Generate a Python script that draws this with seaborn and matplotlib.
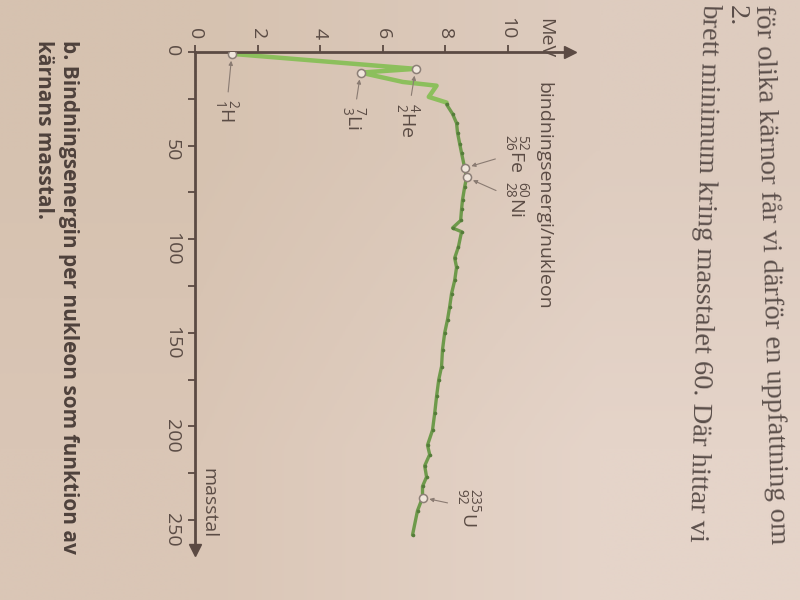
import matplotlib
matplotlib.use('Agg')
import matplotlib.pyplot as plt
import seaborn as sns
import numpy as np

# binding energy per nucleon (MeV) vs mass number
# light nuclei: the pale green zig-zag at the start
light_mev = [1.18, 7.06, 5.30, 6.65, 7.73, 7.48, 8.05]
light_mass = [1, 9, 11, 16, 18, 24, 27]

# the rest of the curve
heavy_mev = [8.05, 8.24, 8.37, 8.40, 8.47, 8.53, 8.63, 8.69, 8.63, 8.56, 8.53, 8.50,
             8.24, 8.53, 8.43, 8.31, 8.37, 8.31, 8.21, 8.15, 8.08, 7.99, 7.92, 7.89,
             7.80, 7.73, 7.67, 7.60, 7.44, 7.51, 7.35, 7.41, 7.28, 7.28, 7.12, 6.96]
heavy_mass = [28, 33, 38, 43, 49, 54, 62, 67, 72, 79, 84, 90,
              94, 96, 104, 110, 115, 122, 129, 136, 143, 150, 159, 168,
              175, 184, 193, 202, 210, 215, 221, 227, 232, 238, 245, 258]

# marked nuclei
iso_names = [r'${}^{2}_{1}$H', r'${}^{4}_{2}$He', r'${}^{7}_{3}$Li',
             r'${}^{52}_{26}$Fe', r'${}^{60}_{28}$Ni', r'${}^{235}_{92}$U']
iso_mev = [1.18, 7.06, 5.30, 8.63, 8.69, 7.28]
iso_mass = [1, 9, 11, 62, 67, 238]

mev_ticks = [0, 2, 4, 6, 8, 10]
mass_ticks = [0, 50, 100, 150, 200, 250]

sns.set_style('ticks')
plt.rcParams['font.family'] = ['Open Sans', 'DejaVu Sans']
plt.rcParams['mathtext.default'] = 'regular'

ink = '#5b4c45'
axcol = '#5b4a43'

fig = plt.figure(figsize=(8, 6), dpi=100)

# paper background, a bit darker on the left like in the photo
bg = fig.add_axes([0, 0, 1, 1], zorder=-1)
paper = np.array([[[214, 194, 176], [222, 204, 191]],
                  [[218, 198, 182], [229, 212, 201]]]) / 255
bg.imshow(paper, aspect='auto', interpolation='bilinear', extent=[0, 1, 0, 1])
bg.axis('off')

# page is photographed sideways: energy runs right, mass number runs down
ax = fig.add_axes([195/800, 50/600, 375/800, 498/600])
ax.set_facecolor('none')

sns.lineplot(x=light_mev, y=light_mass, sort=False, estimator=None, orient='y',
             color='#8cbf5c', linewidth=3.2, ax=ax)
sns.lineplot(x=heavy_mev, y=heavy_mass, sort=False, estimator=None, orient='y',
             color='#6e9a4b', linewidth=2.4, marker='o', markersize=2.6,
             markeredgewidth=0, markerfacecolor='#557c3a', ax=ax)
sns.scatterplot(x=iso_mev, y=iso_mass, marker='o', s=34, color='#f0e6dc',
                edgecolor='#8c7f77', linewidth=1.1, zorder=5, ax=ax)

# label offsets in points (x right, y up)
offsets = [(-4, -41), (-6, -37), (-5, -33), (37, 11), (36, -16), (33, -7)]
for name, e, m, off in zip(iso_names, iso_mev, iso_mass, offsets):
    ax.annotate(name, xy=(e, m), xytext=off, textcoords='offset points',
                rotation=-90, ha='center', va='center', fontsize=14, color=ink,
                arrowprops=dict(arrowstyle='-|>', color='#8a7b72', lw=0.8,
                                mutation_scale=6, shrinkA=3, shrinkB=5))

ax.set_xlim(0, 12)
ax.set_ylim(266, 0)
ax.set_xticks(mev_ticks)
ax.set_yticks(mass_ticks)
ax.set_yticks([25, 75, 125, 175, 225], minor=True)
ax.set_xlabel('')
ax.set_ylabel('')

for side in ['right', 'bottom']:
    ax.spines[side].set_visible(False)
for side in ['top', 'left']:
    ax.spines[side].set_color(axcol)
    ax.spines[side].set_linewidth(2)

ax.tick_params(axis='x', which='both', top=True, bottom=False, labeltop=True,
               labelbottom=False, direction='out', length=5, width=1.3,
               color=axcol, pad=4, labelsize=14, labelcolor=ink, labelrotation=-90)
ax.tick_params(axis='y', which='both', left=True, direction='out', length=5,
               width=1.3, color=axcol, pad=5, labelsize=14, labelcolor=ink,
               labelrotation=-90)

# arrow heads
ax.plot([1], [1], marker='>', ms=9, color=axcol, transform=ax.transAxes, clip_on=False)
ax.plot([0], [0], marker='v', ms=9, color=axcol, transform=ax.transAxes, clip_on=False)

# axis titles
fig.text(545/800, 1 - 38/600, 'MeV', rotation=-90, ha='center', va='center',
         fontsize=14, color=ink)
fig.text(543/800, 1 - 82/600, 'bindningsenergi/nukleon', rotation=-90,
         ha='center', va='top', fontsize=14, color=ink)
fig.text(208/800, 1 - 503/600, 'masstal', rotation=-90, ha='center',
         va='center', fontsize=14, color=ink)

# figure caption
fig.text(56/800, 1 - 40/600,
         'b. Bindningsenergin per nukleon som funktion av\nkärnans masstal.',
         rotation=-90, ha='center', va='top', multialignment='left',
         fontsize=15, fontweight='bold', color='#4e413c', linespacing=1.3)

# running text of the book page (lines lean a little because of the camera angle)
body = dict(ha='center', va='top', family='Liberation Serif',
            fontsize=20.5, color='#5a4e4a')
fig.text(770/800, 1 - 4/600, 'för olika kärnor får vi därför en uppfattning om',
         rotation=-88.4, **body)
fig.text(736/800, 1 - 5/600, '2.', rotation=-90, **body)
fig.text(703/800, 1 - 3/600, 'brett minimum kring masstalet 60. Där hittar vi',
         rotation=-91.4, **body)

fig.savefig('out.png', dpi=100)
